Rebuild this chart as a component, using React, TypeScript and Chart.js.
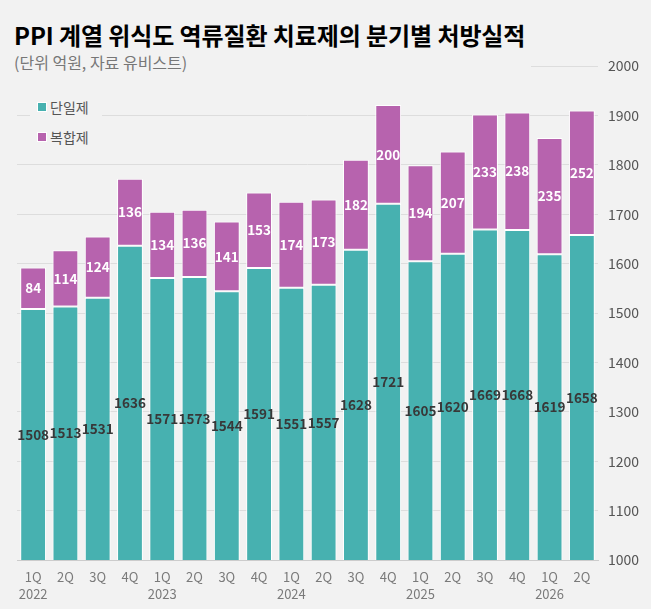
import { useEffect, useRef } from 'react';
import { Chart, registerables } from 'chart.js';

Chart.register(...registerables);

const quarters = ['1Q', '2Q', '3Q', '4Q', '1Q', '2Q', '3Q', '4Q', '1Q', '2Q', '3Q', '4Q', '1Q', '2Q', '3Q', '4Q', '1Q', '2Q'];
const years = ['2022', '', '', '', '2023', '', '', '', '2024', '', '', '', '2025', '', '', '', '2026', ''];
const single = [1508, 1513, 1531, 1636, 1571, 1573, 1544, 1591, 1551, 1557, 1628, 1721, 1605, 1620, 1669, 1668, 1619, 1658];
const combo = [84, 114, 124, 136, 134, 136, 141, 153, 174, 173, 182, 200, 194, 207, 233, 238, 235, 252];
const yTicks = [1000, 1100, 1200, 1300, 1400, 1500, 1600, 1700, 1800, 1900, 2000];

const TEAL = '#47b1b0';
const PURPLE = '#b763ae';
const FONT = "'Noto Sans CJK KR', 'Noto Sans', sans-serif";

// 각 막대 조각 가운데에 값 표시
const valueLabels = {
    id: 'valueLabels',
    afterDatasetsDraw(chart: any) {
        const ctx = chart.ctx;
        const bottom = chart.chartArea.bottom;
        ctx.save();
        ctx.font = `bold 13.5px ${FONT}`;
        ctx.textAlign = 'center';
        ctx.textBaseline = 'middle';
        chart.data.datasets.forEach((ds: any, i: number) => {
            const meta = chart.getDatasetMeta(i);
            meta.data.forEach((bar: any, j: number) => {
                const base = Math.min(bar.base, bottom);
                ctx.fillStyle = i === 0 ? '#383838' : '#ffffff';
                ctx.fillText(String(ds.data[j]), bar.x, (bar.y + base) / 2);
            });
        });
        ctx.restore();
    }
};

export default function App() {
    const canvasRef = useRef<HTMLCanvasElement>(null);

    useEffect(() => {
        document.body.style.margin = '0';
        if (!canvasRef.current) return;
        const chart = new Chart(canvasRef.current, {
            type: 'bar',
            data: {
                labels: quarters.map((q, i) => [q, years[i]]),
                datasets: [
                    { label: '단일제', data: single, backgroundColor: TEAL, borderColor: '#ffffff', borderWidth: 1, borderSkipped: false },
                    { label: '복합제', data: combo, backgroundColor: PURPLE, borderColor: '#ffffff', borderWidth: 1, borderSkipped: false }
                ]
            },
            options: {
                animation: false,
                responsive: false,
                devicePixelRatio: 1,
                layout: { padding: { left: 17, top: 66, right: 0, bottom: 0 } },
                plugins: { legend: { display: false }, tooltip: { enabled: false } },
                datasets: { bar: { barPercentage: 0.8, categoryPercentage: 1 } },
                scales: {
                    x: {
                        stacked: true,
                        grid: { display: false },
                        border: { color: '#cccccc' },
                        ticks: { color: '#7a7a7a', font: { family: FONT, size: 13, lineHeight: 1.3 }, padding: 1, maxRotation: 0, autoSkip: false },
                        afterFit: (s: any) => { s.height = 49; }
                    },
                    y: {
                        stacked: true,
                        position: 'right',
                        min: 1000,
                        max: 2000,
                        afterBuildTicks: (s: any) => { s.ticks = yTicks.map((v) => ({ value: v })); },
                        grid: { color: '#dddddd', drawTicks: false },
                        border: { display: false },
                        ticks: { color: '#555555', font: { family: FONT, size: 14 }, padding: 10, callback: (v: any) => String(v) },
                        afterFit: (s: any) => { s.width = 53; }
                    }
                }
            },
            plugins: [valueLabels]
        });
        return () => chart.destroy();
    }, []);

    return (
        <div style={{ position: 'relative', width: 651, height: 609, backgroundColor: '#f2f2f2', fontFamily: FONT, overflow: 'hidden' }}>
            <canvas ref={canvasRef} width={651} height={609} style={{ position: 'absolute', left: 0, top: 0 }}></canvas>
            <div style={{ position: 'absolute', left: 0, top: 0, width: 531, height: 76, backgroundColor: '#f2f2f2' }}>
                <div style={{ position: 'absolute', left: 14, top: 19, fontSize: 24, lineHeight: '32px', fontWeight: 'bold', color: '#000', letterSpacing: '-0.1px', whiteSpace: 'nowrap' }}>
                    PPI 계열 위식도 역류질환 치료제의 분기별 처방실적
                </div>
                <div style={{ position: 'absolute', left: 14, top: 51, fontSize: 16, lineHeight: '22px', color: '#777', whiteSpace: 'nowrap' }}>
                    (단위 억원, 자료 유비스트)
                </div>
            </div>
            <div style={{ position: 'absolute', left: 30, top: 95, width: 72, height: 56, backgroundColor: '#f2f2f2' }}>
                {[{ name: '단일제', color: TEAL, top: 2 }, { name: '복합제', color: PURPLE, top: 32 }].map((it) => (
                    <div key={it.name} style={{ position: 'absolute', left: 7, top: it.top, display: 'flex', alignItems: 'center', whiteSpace: 'nowrap' }}>
                        <span style={{ display: 'inline-block', width: 8, height: 8, backgroundColor: it.color, border: '1px solid #fff', marginRight: 3 }}></span>
                        <span style={{ fontSize: 14, color: '#555' }}>{it.name}</span>
                    </div>
                ))}
            </div>
        </div>
    );
}
